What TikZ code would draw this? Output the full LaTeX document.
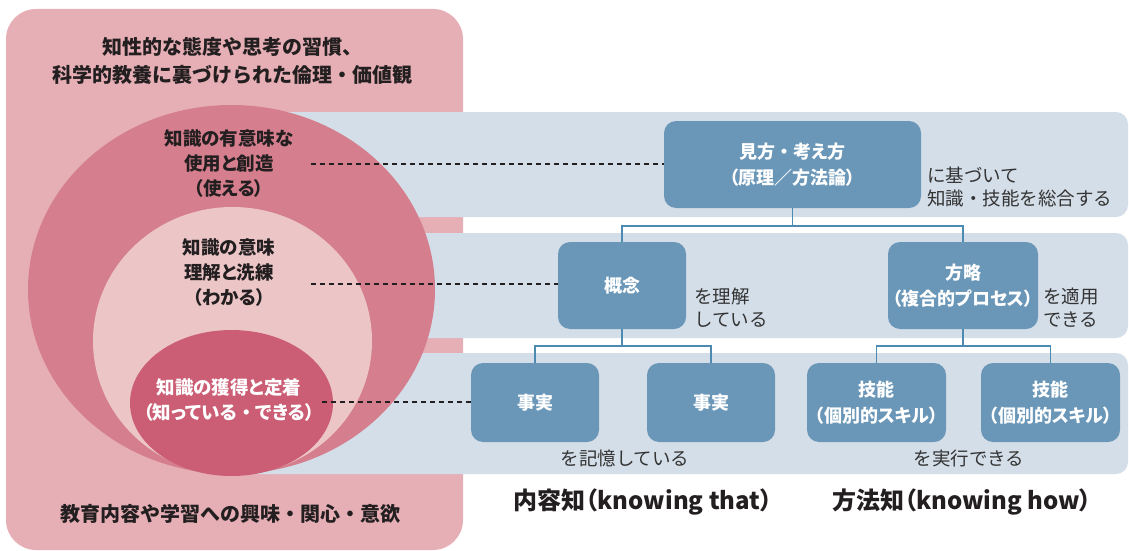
\documentclass[tikz,border=0pt]{standalone}
\usepackage{fontspec}
\newfontfamily\jp{Noto Sans CJK JP}
\newfontfamily\jpp{Noto Sans CJK JP}[RawFeature=+palt]
\newcommand\ndot{{\jp ・}}
\definecolor{outerpink}{HTML}{E6AFB5}
\definecolor{bigpink}{HTML}{D57E8D}
\definecolor{midpink}{HTML}{ECC5C7}
\definecolor{innerpink}{HTML}{CB5E74}
\definecolor{bandc}{HTML}{D4DEE8}
\definecolor{boxc}{HTML}{6A97B8}
\definecolor{connc}{HTML}{4C8AB2}
\definecolor{ink}{HTML}{231F20}
\definecolor{minink}{HTML}{333333}
\begin{document}
\begin{tikzpicture}[x=1pt,y=-1pt,
  band/.style={fill=bandc, rounded corners=12pt},
  bluebox/.style={fill=boxc, rounded corners=12pt, text=white, align=center, inner sep=0pt,
    font=\jpp\bfseries\fontsize{18}{26}\selectfont},
  circtext/.style={align=center, inner sep=0pt, font=\jpp\bfseries\fontsize{18.5}{25}\selectfont},
  sidelabel/.style={align=left, inner sep=0pt, text=minink, font=\jp\fontsize{18.5}{23}\selectfont},
  header/.style={inner sep=0pt, text=ink, font=\jpp\bfseries\fontsize{24}{28}\selectfont},
  pinktext/.style={align=center, inner sep=0pt, text=ink, font=\jp\bfseries\fontsize{20}{28}\selectfont},
  conn/.style={draw=connc, line width=1.6pt},
  dashline/.style={draw=ink, line width=1.5pt, dash pattern=on 5pt off 4pt}
]
\useasboundingbox (0,0) rectangle (1129,551);
% outer pink panel
\fill[outerpink, rounded corners=30pt] (6,9) rectangle (463,550);
% blue bands
\fill[band] (232,112) rectangle (1128,217);
\fill[band] (232,233) rectangle (1128,338);
\fill[band] (232,353) rectangle (1128,474);
% circles
\fill[bigpink] (231.5,289.5) ellipse [x radius=203.5pt, y radius=184.5pt];
\fill[midpink] (232.5,341) ellipse [x radius=139.5pt, y radius=134pt];
\fill[innerpink] (231.5,403) ellipse [x radius=101.5pt, y radius=73pt];
% pink panel texts
\node[pinktext] (attitude) at (232,61) {知性的な態度や思考の習慣、\\科学的教養に裏づけられた倫理・価値観};
\node[pinktext] (interest) at (230,514) {教育内容や学習への興味・関心・意欲};
% circle texts
\node[circtext, text=ink] (use) at (229,164) {知識の有意味な\\使用と創造\\（使える）};
\node[circtext, text=ink] (understand) at (229,272.5) {知識の意味\\理解と洗練\\（わかる）};
\node[circtext, text=white] (acquire) at (229,400) {知識の獲得と定着\\（知っている\ndot できる）};
% blue boxes
\node[bluebox, minimum width=257pt, minimum height=87pt] (mikata) at (792.5,164.5) {見方\ndot 考え方\\（原理／方法論）};
\node[bluebox, minimum width=128pt, minimum height=87pt] (gainen) at (622,285.5) {概念};
\node[bluebox, minimum width=150pt, minimum height=87pt] (senryaku) at (963,285.5) {方略\\（複合的プロセス）};
\node[bluebox, minimum width=128pt, minimum height=79pt] (jijitsuA) at (535,402.5) {事実};
\node[bluebox, minimum width=128pt, minimum height=79pt] (jijitsuB) at (711,402.5) {事実};
\node[bluebox, minimum width=139pt, minimum height=79pt] (ginouA) at (876.5,402.5) {技能\\（個別的スキル）};
\node[bluebox, minimum width=139pt, minimum height=79pt] (ginouB) at (1050.5,402.5) {技能\\（個別的スキル）};
% tree connectors
\draw[conn] (mikata.south) -- ++(0,18) -| (gainen.north);
\draw[conn] (mikata.south) -- ++(0,18) -| (senryaku.north);
\draw[conn] (gainen.south) -- ++(0,17) -| (jijitsuA.north);
\draw[conn] (gainen.south) -- ++(0,17) -| (jijitsuB.north);
\draw[conn] (senryaku.south) -- ++(0,17) -| (ginouA.north);
\draw[conn] (senryaku.south) -- ++(0,17) -| (ginouB.north);
% side labels
\node[sidelabel, anchor=west] (sogo) at (927,187.5) {に基づいて\\知識・技能を総合する};
\node[sidelabel, anchor=west] (rikai) at (694,307.5) {を理解\\している};
\node[sidelabel, anchor=west] (tekiyo) at (1043,307.5) {を適用\\できる};
\node[sidelabel] (kioku) at (625,458) {を記憶している};
\node[sidelabel] (jikko) at (969,458) {を実行できる};
% headers
\node[header] (naiyo) at (643,502) {内容知（knowing that）};
\node[header] (hoho) at (962,502) {方法知（knowing how）};
% dashed leaders
\coordinate (dA) at (311,164);
\coordinate (dB) at (311,284);
\coordinate (dC) at (322,402);
\draw[dashline] (dA) -- (dA -| mikata.west);
\draw[dashline] (dB) -- (dB -| gainen.west);
\draw[dashline] (dC) -- (dC -| jijitsuA.west);
\end{tikzpicture}
\end{document}
